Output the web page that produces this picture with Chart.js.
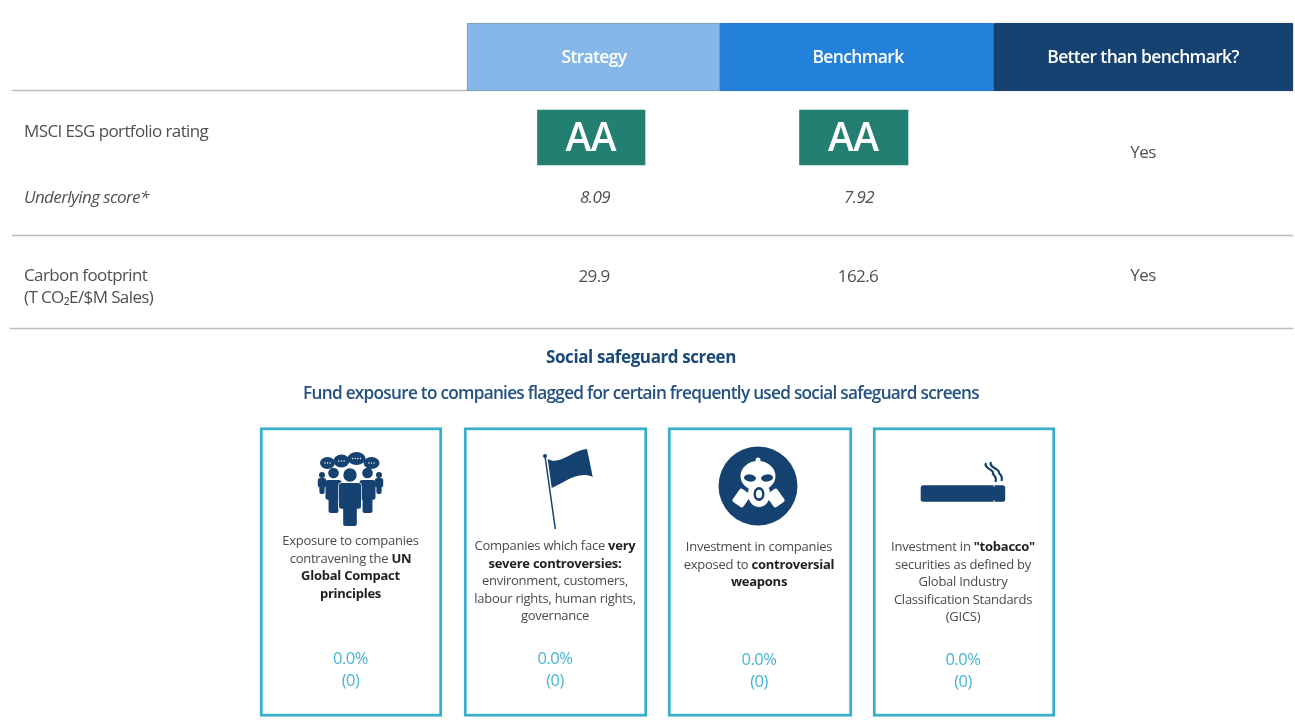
<!DOCTYPE html>
<html lang="en">
<head>
<meta charset="utf-8">
<title>Social safeguard screen</title>
<style>
  html, body { margin: 0; padding: 0; background: #fff; }
  canvas { display: block; }
</style>
<script src="https://cdn.jsdelivr.net/npm/chart.js@4"></script>
</head>
<body>
<canvas id="tableChart" width="1295" height="727"></canvas>
<script>
// ===== DATA =====
const columns = ["Strategy", "Benchmark", "Better than benchmark?"];
const ratings = ["AA", "AA"];
const underlyingScores = [8.09, 7.92];
const carbonFootprint = [29.9, 162.6];
const betterThanBenchmark = ["Yes", "Yes"];
const screenExposure = [0.0, 0.0, 0.0, 0.0];
const screenCounts = [0, 0, 0, 0];
const screenText = [
  ["Exposure to companies", "contravening the **UN**", "**Global Compact**", "**principles**"],
  ["Companies which face **very**", "**severe controversies:**", "environment, customers,", "labour rights, human rights,", "governance"],
  ["Investment in companies", "exposed to **controversial**", "**weapons**"],
  ["Investment in **\"tobacco\"**", "securities as defined by", "Global Industry", "Classification Standards", "(GICS)"],
];

// ===== LAYOUT (page pixels, the chart's x and y scales run 0-1295 and 0-727) =====
const FONT = '"Open Sans", "Noto Sans", sans-serif';
const headerEdges = [467, 720, 994, 1293];
const headerColors = ["#85b8e9", "#2481db", "#154270"];
const columnCenters = [594, 858, 1143];
const badgeEdges = [[537.5, 645], [799.5, 908]];
const cardEdges = [[260, 442], [464, 647], [668, 852], [873, 1055]];
const cardCenters = [350.5, 555, 759, 963];
const cardFirstLine = [540.5, 545.5, 546.5, 546.5];
const cardValueY = [658, 658, 659, 659];
const ruleLines = [[12, 467, 90.5], [12, 1293, 235.5], [10, 1293, 328.5]];

const headerBars = columns.map((_, i) => ({ x: [headerEdges[i], headerEdges[i + 1]], y: 57 }));
const badgeBars = ratings.map((_, i) => ({ x: badgeEdges[i], y: 137.5 }));
const cardBars = cardEdges.map(edges => ({ x: edges, y: 572 }));
const ruleBars = ruleLines.map(([from, to, y]) => ({ x: [from, to], y }));

// ===== TEXT =====
function putText(chart, text, x, y, style) {
  const ctx = chart.ctx;
  const weight = style.weight || 400;
  const italic = style.italic ? "italic " : "";
  const runs = text.split("**").map((part, i) => ({ part, bold: i % 2 === 1 })).filter(r => r.part);
  const fontFor = run => `${italic}${run.bold ? 700 : weight} ${style.size}px ${FONT}`;

  ctx.save();
  ctx.textBaseline = "middle";
  ctx.textAlign = "left";
  ctx.letterSpacing = `${style.spacing || 0}px`;
  let total = 0;
  runs.forEach(run => {
    ctx.font = fontFor(run);
    run.width = ctx.measureText(run.part).width;
    total += run.width;
  });
  let px = chart.scales.x.getPixelForValue(x);
  const py = chart.scales.y.getPixelForValue(y) + 1;
  if (style.align !== "left") px -= total / 2;
  runs.forEach(run => {
    ctx.font = fontFor(run);
    ctx.fillStyle = run.bold ? (style.boldColor || style.color) : style.color;
    ctx.fillText(run.part, px, py);
    px += run.width;
  });
  ctx.restore();
}

const body = { size: 17, color: "#505050", spacing: -0.6 };
const head = { size: 17.5, weight: 600, color: "#fff", spacing: -0.65 };
const small = { size: 13, color: "#4a4a4a", boldColor: "#1f1f1f", spacing: -0.25 };
const cyan = { size: 16.5, color: "#45b5d6", spacing: -0.5 };

function drawAllText(chart) {
  columns.forEach((label, i) => putText(chart, label, columnCenters[i], 57, head));
  ratings.forEach((label, i) => {
    putText(chart, label, (badgeEdges[i][0] + badgeEdges[i][1]) / 2 - 0.5, 138.5, { size: 39, weight: 600, color: "#fff", spacing: -0.5 });
  });

  putText(chart, "MSCI ESG portfolio rating", 24, 131, { ...body, align: "left" });
  putText(chart, "Underlying score*", 24, 197, { ...body, align: "left", italic: true });
  putText(chart, "Carbon footprint", 24, 275, { ...body, align: "left" });
  putText(chart, "(T CO₂E/$M Sales)", 24, 297, { ...body, align: "left" });

  underlyingScores.forEach((v, i) => putText(chart, v.toFixed(2), columnCenters[i] + 1, 197, { ...body, italic: true }));
  carbonFootprint.forEach((v, i) => putText(chart, v.toFixed(1), columnCenters[i], 276, body));
  putText(chart, betterThanBenchmark[0], columnCenters[2], 152, body);
  putText(chart, betterThanBenchmark[1], columnCenters[2], 275, body);

  putText(chart, "Social safeguard screen", 641, 357, { size: 17, weight: 700, color: "#1b4a78", spacing: -0.4 });
  putText(chart, "Fund exposure to companies flagged for certain frequently used social safeguard screens", 641, 393, { size: 17.2, weight: 600, color: "#245180", spacing: -0.72 });

  screenText.forEach((lines, i) => {
    lines.forEach((line, n) => putText(chart, line, cardCenters[i], cardFirstLine[i] + n * 17.5, small));
    putText(chart, `${screenExposure[i].toFixed(1)}%`, cardCenters[i], cardValueY[i], cyan);
    putText(chart, `(${screenCounts[i]})`, cardCenters[i], cardValueY[i] + 22, cyan);
  });
}

// ===== ICONS =====
const NAVY = "#154270";

function person(ctx, cx, headY, headR, halfW, top, bottom) {
  ctx.beginPath();
  ctx.arc(cx, headY, headR, 0, Math.PI * 2);
  ctx.fill();
  ctx.beginPath();
  ctx.roundRect(cx - halfW, top, halfW * 2, (bottom - top) * 0.6, 2.5);
  ctx.fill();
  ctx.beginPath();
  ctx.roundRect(cx - halfW * 0.62, top + 2, halfW * 1.24, bottom - top - 2, 2);
  ctx.fill();
}

function bubble(ctx, cx, cy, rx, ry, dots) {
  ctx.fillStyle = NAVY;
  ctx.beginPath();
  ctx.ellipse(cx, cy, rx, ry, 0, 0, Math.PI * 2);
  ctx.fill();
  ctx.fillStyle = "#fff";
  for (let i = 0; i < dots; i++) {
    ctx.beginPath();
    ctx.arc(cx + (i - (dots - 1) / 2) * 2.6, cy, 0.7, 0, Math.PI * 2);
    ctx.fill();
  }
}

function drawPeople(ctx) {
  bubble(ctx, 327.5, 463, 7.5, 6, 3);
  bubble(ctx, 371.5, 463, 8, 6, 3);
  bubble(ctx, 341.5, 461, 8, 6.5, 3);
  bubble(ctx, 356.5, 458.5, 9, 6.5, 4);
  ctx.fillStyle = NAVY;
  person(ctx, 322, 475, 3, 4.2, 478, 494);
  person(ctx, 379, 475, 3, 4.2, 478, 494);
  person(ctx, 333.5, 473, 5.3, 8, 480, 513);
  person(ctx, 367.5, 473, 5.3, 8, 480, 513);
  ctx.strokeStyle = "#fff";
  ctx.lineWidth = 1.4;
  ctx.beginPath();
  ctx.roundRect(339, 483, 22, 27, 3);
  ctx.stroke();
  person(ctx, 350, 475, 6.7, 11, 483, 526);
}

function drawFlag(ctx) {
  ctx.strokeStyle = NAVY;
  ctx.fillStyle = NAVY;
  ctx.lineWidth = 1.5;
  ctx.beginPath();
  ctx.moveTo(545, 456);
  ctx.lineTo(555.3, 529);
  ctx.stroke();
  ctx.beginPath();
  ctx.arc(545, 456, 2, 0, Math.PI * 2);
  ctx.fill();
  ctx.beginPath();
  ctx.moveTo(547.7, 459);
  ctx.bezierCurveTo(560, 466, 572, 450, 587, 449);
  ctx.bezierCurveTo(589, 458, 591, 468, 592.7, 477);
  ctx.bezierCurveTo(578, 470, 564, 483, 551.7, 488);
  ctx.closePath();
  ctx.fill();
}

function drawMask(ctx) {
  ctx.fillStyle = NAVY;
  ctx.beginPath();
  ctx.arc(758, 486, 39.5, 0, Math.PI * 2);
  ctx.fill();

  ctx.fillStyle = "#fff";
  ctx.beginPath();
  ctx.arc(758, 460, 2.5, 0, Math.PI * 2);
  ctx.fill();
  ctx.beginPath();
  ctx.ellipse(758, 476, 17.5, 15, 0, 0, Math.PI * 2);
  ctx.fill();
  ctx.beginPath();
  ctx.ellipse(759, 494, 11, 13, 0, 0, Math.PI * 2);
  ctx.fill();
  [[741.5, 498, 0.62], [775.5, 498, -0.62]].forEach(([x, y, angle]) => {
    ctx.save();
    ctx.translate(x, y);
    ctx.rotate(angle);
    ctx.beginPath();
    ctx.roundRect(-6.5, -8, 13, 16, 2.5);
    ctx.fill();
    ctx.restore();
  });

  ctx.fillStyle = NAVY;
  [[750, 478, 0.1], [767, 478, -0.1]].forEach(([x, y, angle]) => {
    ctx.beginPath();
    ctx.ellipse(x, y, 6, 3.6, angle, 0, Math.PI * 2);
    ctx.fill();
  });
  ctx.beginPath();
  ctx.ellipse(759, 494, 5.5, 7, 0, 0, Math.PI * 2);
  ctx.fill();
  ctx.fillStyle = "#fff";
  ctx.beginPath();
  ctx.ellipse(759, 494, 3, 4.3, 0, 0, Math.PI * 2);
  ctx.fill();
}

function drawCigarette(ctx) {
  ctx.fillStyle = NAVY;
  ctx.beginPath();
  ctx.roundRect(920.7, 485.3, 84.5, 16.4, 2.5);
  ctx.fill();
  ctx.fillStyle = "#fff";
  ctx.fillRect(993.5, 485.3, 1.2, 1.4);
  ctx.fillRect(993.5, 500.3, 1.2, 1.4);
  ctx.strokeStyle = NAVY;
  ctx.lineWidth = 2.2;
  [[986, 463, 996], [991, 462, 1002]].forEach(([x0, y0, x1]) => {
    ctx.beginPath();
    ctx.moveTo(x0, y0);
    ctx.bezierCurveTo(x0 - 3, y0 + 6, x0 + 9, y0 + 6, x1 - 3, y0 + 11);
    ctx.bezierCurveTo(x1 - 1, y0 + 13, x1 + 1, y0 + 15, x1 - 0.5, y0 + 19);
    ctx.stroke();
  });
}

// ===== PLUGIN: cell text and icons on top of the bars =====
const tableExtras = {
  id: "tableExtras",
  afterDatasetsDraw(chart) {
    const ctx = chart.ctx;
    ctx.save();
    drawPeople(ctx);
    drawFlag(ctx);
    drawMask(ctx);
    drawCigarette(ctx);
    ctx.restore();
    drawAllText(chart);
  },
};

// ===== CHART =====
const floatingBar = { grouped: false, borderSkipped: false };

new Chart(document.getElementById("tableChart"), {
  type: "bar",
  data: {
    datasets: [
      { ...floatingBar, label: "Header", data: headerBars, barThickness: 68, backgroundColor: headerColors,
        borderColor: ["#7f97ad", "#2a78c4", "#154270"], borderWidth: 1, borderRadius: 1.5 },
      { ...floatingBar, label: "Rating", data: badgeBars, barThickness: 55, backgroundColor: "#237f71" },
      { ...floatingBar, label: "Screen", data: cardBars, barThickness: 289, backgroundColor: "#fff",
        borderColor: "#3aaecb", borderWidth: 3 },
      { ...floatingBar, label: "Rule", data: ruleBars, barThickness: 1, backgroundColor: "#bdbdbd" },
    ],
  },
  options: {
    indexAxis: "y",
    responsive: false,
    animation: false,
    layout: { padding: 0 },
    plugins: { legend: { display: false }, tooltip: { enabled: false } },
    scales: {
      x: { type: "linear", display: false, min: 0, max: 1295 },
      y: { type: "linear", display: false, min: 0, max: 727, reverse: true, offset: false },
    },
  },
  plugins: [tableExtras],
});
</script>
</body>
</html>
